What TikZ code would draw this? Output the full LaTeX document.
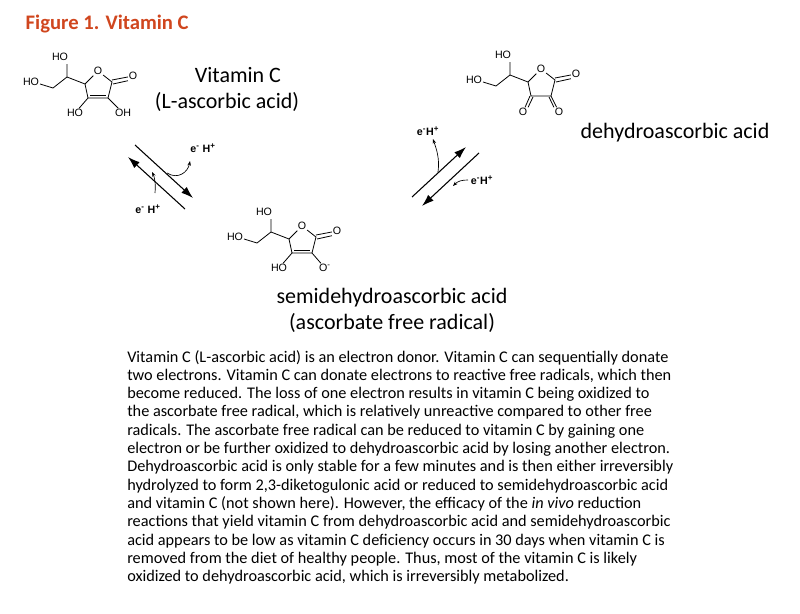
\documentclass[tikz,border=0pt]{standalone}
\usepackage{fontspec}
\setmainfont{Carlito}
\newfontfamily\molfont{Liberation Sans}
\usetikzlibrary{arrows.meta}
\definecolor{titleorange}{HTML}{D0461E}
\begin{document}
\begin{tikzpicture}[x=0.75pt,y=-0.75pt]
\tikzset{bond/.style={line width=0.6pt},
 atom/.style={font=\molfont\fontsize{8}{8}\selectfont,inner sep=0.5pt},
 lbl/.style={font=\fontsize{16.5}{18}\selectfont,inner sep=0pt},
 para/.style={font=\fontsize{12.2}{14}\selectfont,anchor=base west,inner sep=0pt},
 eq/.style={line width=0.8pt,-{Latex[length=9pt,width=6pt]}},
 small/.style={font=\molfont\bfseries\fontsize{8}{8}\selectfont,inner sep=0.5pt},
 curv/.style={line width=0.5pt,-{Stealth[length=3.5pt]}}}
\useasboundingbox (0,0) rectangle (800,614);
\node[anchor=west,font=\bfseries\fontsize{15.5}{17}\selectfont,text=titleorange] (title) at (21,24) {Figure 1. Vitamin C};
\newcommand{\ring}[2]{%
\begin{scope}[shift={#1}]
\node[atom] (HOa) at (60,57) {HO};
\node[atom] (HOb) at (31,82) {HO};
\node[atom] (Or) at (98,71) {O};
\node[atom] (Ox) at (133,76) {O};
\draw[bond] (67,64) -- (67,77) -- (53,88) -- (40,84);
\draw[bond] (67,77) -- (85,84) -- (Or) -- (112,82) -- (108,98) -- (88,98) -- (85,84);
\draw[bond] (112,80) -- (Ox); \draw[bond] (113,84) -- (Ox.south west);
#2
\end{scope}}
\ring{(0,0)}{\draw[bond] (90,95) -- (106,95);
\node[atom] (HOc) at (75,113) {HO}; \node[atom] (OHd) at (123,113) {OH};
\draw[bond] (88,98) -- (HOc); \draw[bond] (108,98) -- (OHd);}
\ring{(204,155)}{\draw[bond] (90,95) -- (106,95);
\node[atom] (HOe) at (75,113) {HO}; \node[atom] (Of) at (121,113) {O\textsuperscript{-}};
\draw[bond] (88,98) -- (HOe); \draw[bond] (108,98) -- (Of);}
\ring{(443,-2)}{\node[atom] (Og) at (80,114) {O}; \node[atom] (Oh) at (116,114) {O};
\draw[bond] (87,98) -- (Og); \draw[bond] (90,99) -- (Og.north east);
\draw[bond] (108,98) -- (Oh); \draw[bond] (106,99) -- (Oh.north west);}
\node[lbl] (vc) at (238,75) {Vitamin C};
\node[lbl] (la) at (227,102) {(L-ascorbic acid)};
\node[lbl] (dha) at (675,133) {dehydroascorbic acid};
\node[lbl] (sda) at (392,298) {semidehydroascorbic acid};
\node[lbl] (afr) at (392,323) {(ascorbate free radical)};
\coordinate (l1a) at (135,145); \coordinate (l1b) at (193,198);
\coordinate (l2a) at (128,157); \coordinate (l2b) at (185,209);
\draw[eq] (l1a) -- (l1b);
\draw[eq] (l2b) -- (l2a);
\node[small] (e1) at (203,148) {e\textsuperscript{-} H\textsuperscript{+}};
\node[small] (e2) at (148,209) {e\textsuperscript{-} H\textsuperscript{+}};
\coordinate (m1) at (167,173); \coordinate (m2) at (152,172);
\draw[curv] (m1) .. controls (178,180) and (188,172) .. (190,161);
\draw[curv] (155,193) .. controls (156,182) and (154,176) .. (m2);
\coordinate (r1a) at (412,197); \coordinate (r1b) at (466,147);
\coordinate (r2a) at (479,153); \coordinate (r2b) at (422,206);
\draw[eq] (r1a) -- (r1b);
\draw[eq] (r2a) -- (r2b);
\node[small] (e3) at (428,131) {e\textsuperscript{-}H\textsuperscript{+}};
\node[small] (e4) at (482,180) {e\textsuperscript{-}H\textsuperscript{+}};
\draw[curv] (438,172) .. controls (440,158) and (436,148) .. (433,139);
\draw[curv] (468,180) .. controls (462,180) and (458,181) .. (453,186);
\foreach \t [count=\i from 0] in {
{Vitamin C (L-ascorbic acid) is an electron donor. Vitamin C can sequentially donate},
{two electrons. Vitamin C can donate electrons to reactive free radicals, which then},
{become reduced. The loss of one electron results in vitamin C being oxidized to},
{the ascorbate free radical, which is relatively unreactive compared to other free},
{radicals. The ascorbate free radical can be reduced to vitamin C by gaining one},
{electron or be further oxidized to dehydroascorbic acid by losing another electron.},
{Dehydroascorbic acid is only stable for a few minutes and is then either irreversibly},
{hydrolyzed to form 2,3-diketogulonic acid or reduced to semidehydroascorbic acid},
{and vitamin C (not shown here). However, the efficacy of the \textit{in vivo} reduction},
{reactions that yield vitamin C from dehydroascorbic acid and semidehydroascorbic},
{acid appears to be low as vitamin C deficiency occurs in 30 days when vitamin C is},
{removed from the diet of healthy people. Thus, most of the vitamin C is likely},
{oxidized to dehydroascorbic acid, which is irreversibly metabolized.}}
{\node[para] (p\i) at (127,362+18.3*\i) {\t};}
\end{tikzpicture}
\end{document}
